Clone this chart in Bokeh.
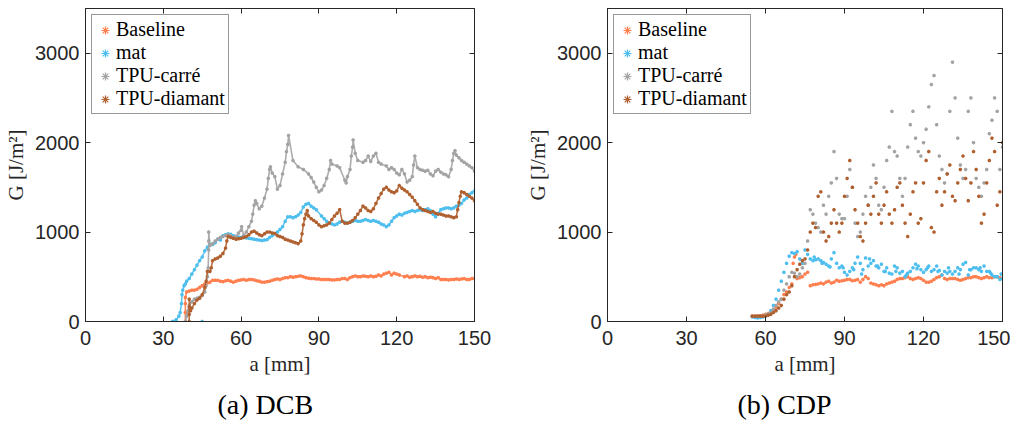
from bokeh.plotting import figure
from bokeh.layouts import row
from bokeh.models import LinearAxis, Range1d, Legend, LegendItem, Title, FixedTicker, CustomJSTickFormatter
from bokeh.embed import file_html
from bokeh.resources import INLINE

X_TICKS = [0, 30, 60, 90, 120, 150]
Y_TICKS = [0, 1000, 2000, 3000]
LABELS = ["Baseline", "mat", "TPU-carré", "TPU-diamant"]
COLORS = ["#FF7F4F", "#4DBEEE", "#A3A3A3", "#B0602F"]
CAPTIONS = ["(a) DCB", "(b) CDP"]

# ---------------- (a) DCB ----------------
dcb_base_a = [38.5, 38.5, 38.5, 38.5, 39, 40, 41, 42, 43, 44, 45, 46, 47, 48, 49, 50, 51, 52, 53, 54,
              55, 56, 57, 58, 59, 60, 61, 62, 63, 64, 65, 66, 67, 68, 69, 70, 71, 72, 73, 74,
              75, 76, 77, 78, 79, 80, 81, 82, 83, 84, 85, 86, 87, 88, 89, 90, 91, 92, 93, 94,
              95, 96, 97, 98, 99, 100, 101, 102, 103, 104, 105, 106, 107, 108, 109, 110, 111, 112, 113, 114,
              115, 116, 117, 118, 119, 120, 121, 123, 124, 125, 126, 127, 128, 129, 130, 131, 132, 133, 134, 135,
              136, 137, 138, 139, 140, 141, 142, 143, 144, 145, 146, 147, 148, 149, 150]
dcb_base_g = [0, 100, 200, 270, 330, 340, 350, 350, 360, 380, 400, 420, 430, 440, 460, 460, 460, 450, 445, 455,
              460, 450, 440, 450, 460, 465, 470, 460, 470, 470, 465, 455, 450, 440, 440, 445, 450, 460, 470, 475,
              470, 480, 490, 490, 500, 495, 500, 505, 510, 500, 490, 485, 480, 480, 475, 475, 470, 470, 470, 470,
              465, 465, 470, 470, 480, 480, 470, 490, 500, 510, 500, 500, 510, 505, 500, 510, 500, 505, 520, 510,
              530, 540, 550, 520, 540, 530, 520, 500, 510, 495, 500, 510, 500, 505, 495, 500, 490, 495, 490, 480,
              490, 470, 470, 470, 465, 470, 470, 475, 470, 475, 480, 470, 470, 480, 480]

dcb_mat_a = [33.5, 34, 35, 36, 36.5, 37, 37.2, 37.5, 38, 38.5, 39, 40, 41, 42, 43, 44, 45, 46, 47, 48,
             49, 50, 51, 52, 53, 54, 55, 56, 57, 58, 59, 60, 61, 62, 63, 64, 65, 66, 67, 68,
             69, 70, 71, 72, 73, 74, 75, 76, 77, 78, 79, 80, 81, 82, 83, 84, 85, 86, 87, 88,
             89, 91, 92, 93, 94, 95, 96, 97, 98, 99, 100, 101, 102, 103, 104, 105, 106, 107, 108, 109,
             110, 111, 112, 113, 114, 115, 116, 117, 118, 119, 120, 121, 122, 123, 124, 125, 126, 127, 128, 129,
             130, 131, 132, 133, 134, 135, 136, 137, 138, 139, 140, 141, 142, 143, 144, 145, 146, 147, 148, 149,
             150]
dcb_mat_g = [0, 0, 20, 60, 100, 200, 300, 350, 400, 420, 450, 480, 530, 580, 630, 680, 720, 790, 830, 860,
             860, 880, 920, 910, 960, 970, 980, 975, 960, 950, 945, 940, 940, 935, 930, 925, 920, 915, 910, 905,
             910, 915, 940, 960, 980, 1000, 1030, 1060, 1120, 1170, 1170, 1160, 1170, 1190, 1220, 1280, 1310, 1320, 1290, 1270,
             1250, 1180, 1150, 1120, 1100, 1090, 1080, 1090, 1110, 1120, 1110, 1100, 1110, 1120, 1130, 1120, 1120, 1130, 1140, 1130,
             1120, 1130, 1120, 1110, 1090, 1080, 1060, 1080, 1120, 1160, 1180, 1200, 1190, 1210, 1220, 1230, 1240, 1230, 1240, 1250,
             1240, 1250, 1260, 1240, 1200, 1170, 1210, 1250, 1260, 1270, 1270, 1260, 1270, 1290, 1300, 1320, 1360, 1380, 1420, 1440,
             1460]
dcb_mat_stray_a = [45]
dcb_mat_stray_g = [0]

dcb_car_a = [38.5, 39, 39.5, 40, 41, 42, 43, 44, 45, 46, 46.5, 47, 47.3, 47.5, 47.5, 47.5, 48, 49, 50, 51,
             52, 53, 54, 55, 56, 57, 58, 59, 60, 60.2, 61, 62, 63, 64, 64.5, 65, 65.5, 66, 67, 68,
             69, 70, 70.5, 71, 71.3, 72, 73, 74, 75, 76, 77, 77.5, 78, 78.3, 80, 82, 84, 86, 87, 88,
             89, 90, 91, 92, 93, 94, 94.5, 95, 97, 98, 100, 100.5, 101, 102, 102.5, 103, 103.2, 104, 105, 107,
             108, 109, 110, 111, 112, 113, 114, 116, 117, 118, 119, 120, 121, 122, 123, 124, 125, 126, 126.5, 127,
             128, 129, 130, 131, 132, 133, 134, 135, 136, 137, 138, 139, 140, 141, 141.5, 142, 142.5, 143, 144, 145,
             146, 147, 148, 149, 150]
dcb_car_g = [0, 60, 120, 180, 220, 250, 260, 270, 290, 330, 400, 500, 600, 800, 900, 1000, 850, 870, 900, 920,
             940, 950, 960, 970, 960, 940, 950, 990, 1020, 1060, 960, 1000, 1060, 1120, 1200, 1300, 1350, 1320, 1260, 1290,
             1380, 1480, 1600, 1700, 1730, 1660, 1620, 1480, 1520, 1650, 1780, 1900, 1980, 2080, 1800, 1730, 1700, 1650, 1610, 1560,
             1500, 1450, 1470, 1520, 1600, 1700, 1800, 1760, 1740, 1720, 1580, 1550, 1620, 1700, 1850, 1950, 2030, 1880, 1800, 1780,
             1800, 1850, 1790, 1850, 1880, 1780, 1760, 1740, 1700, 1720, 1700, 1660, 1640, 1700, 1650, 1560, 1580, 1620, 1750, 1850,
             1720, 1700, 1690, 1680, 1690, 1650, 1630, 1680, 1700, 1670, 1650, 1640, 1620, 1700, 1800, 1880, 1910, 1860, 1830, 1800,
             1780, 1760, 1740, 1720, 1680]

dcb_dia_a = [40, 40, 40, 40, 40.5, 41, 42, 43, 44, 45, 46, 46.5, 47, 48, 48.5, 49, 50, 51, 52, 53,
             54, 54.5, 55, 56, 57, 58, 59, 60, 61, 62, 63, 64, 65, 66, 67, 68, 69, 70, 71, 72,
             73, 74, 75, 76, 77, 78, 79, 80, 81, 82, 83, 83.5, 84, 84.5, 85, 85.5, 86, 87, 88, 89,
             90, 91, 92, 93, 94, 95, 96, 97, 98, 99, 100, 101, 102, 103, 104, 105, 106, 107, 108, 109,
             110, 111, 112, 113, 114, 115, 116, 117, 118, 119, 120, 121, 122, 123, 124, 125, 126, 127, 128, 129,
             130, 131, 132, 133, 134, 135, 136, 137, 138, 139, 140, 141, 142, 143, 143.5, 144, 144.5, 145, 146, 147,
             148, 149, 150]
dcb_dia_g = [0, 80, 160, 250, 120, 150, 200, 240, 260, 300, 380, 450, 560, 560, 600, 680, 700, 710, 730, 760,
             820, 900, 950, 940, 930, 920, 925, 930, 940, 950, 970, 1000, 1010, 990, 970, 960, 980, 1000, 1000, 990,
             985, 960, 950, 940, 920, 910, 900, 890, 880, 870, 900, 980, 1080, 1150, 1200, 1240, 1180, 1150, 1130, 1110,
             1080, 1060, 1070, 1080, 1100, 1140, 1180, 1210, 1250, 1120, 1100, 1100, 1110, 1130, 1160, 1200, 1240, 1290, 1270, 1240,
             1230, 1260, 1320, 1380, 1430, 1480, 1500, 1470, 1450, 1440, 1460, 1520, 1490, 1470, 1450, 1420, 1390, 1350, 1310, 1270,
             1250, 1240, 1230, 1220, 1230, 1210, 1200, 1200, 1190, 1180, 1180, 1170, 1160, 1170, 1250, 1330, 1400, 1450, 1440, 1420,
             1400, 1380, 1350]

# ---------------- (b) CDP ----------------
cdp_base_a = [55, 56, 57, 58, 59, 60, 61, 62, 63, 64, 65, 66, 67, 68, 69, 70, 70.5, 71, 71.5, 72,
              73, 74, 75, 76, 77, 78, 79, 80, 81, 82, 83, 84, 85, 86, 87, 88, 89, 90, 91, 92,
              93, 94, 95, 96, 97, 98, 99, 100, 101, 102, 103, 104, 105, 106, 107, 108, 109, 110, 111, 112,
              113, 114, 115, 116, 117, 118, 119, 120, 121, 122, 123, 124, 125, 126, 127, 128, 129, 130, 131, 132,
              133, 134, 135, 136, 137, 138, 139, 140, 141, 142, 143, 144, 145, 146, 147, 148, 149, 150]
cdp_base_g = [60, 60, 60, 65, 70, 80, 90, 100, 130, 160, 200, 250, 300, 330, 380, 420, 650, 720, 750, 480,
              490, 500, 530, 550, 400, 410, 415, 420, 430, 420, 440, 450, 430, 440, 460, 450, 455, 460, 470, 470,
              455, 460, 470, 440, 470, 500, 480, 430, 420, 410, 400, 410, 400, 420, 430, 440, 450, 470, 480, 480,
              490, 500, 480, 470, 480, 490, 480, 460, 440, 440, 450, 470, 490, 500, 520, 480, 470, 480, 480, 480,
              470, 460, 470, 480, 490, 490, 500, 500, 490, 480, 490, 500, 490, 490, 500, 500, 490, 480]

cdp_mat_a = [55, 56, 57, 58, 59, 60, 61, 62, 63, 64, 65, 66, 67, 68, 69, 70, 71, 72, 73, 74,
             75, 76, 77, 78, 79, 80, 81, 82, 83, 84, 85, 86, 87, 88, 89, 90, 91, 92, 93, 94,
             95, 96, 97, 98, 99, 100, 101, 102, 103, 104, 105, 106, 107, 108, 109, 110, 111, 112, 113, 114,
             115, 116, 117, 118, 119, 120, 121, 122, 123, 124, 125, 126, 127, 128, 129, 130, 131, 132, 133, 134,
             135, 136, 137, 138, 139, 140, 141, 142, 143, 144, 145, 146, 147, 148, 149, 150,
             78.5, 81.5, 84.5, 89.5, 93.5, 96.5, 99.5, 102.5, 105.5, 109.5, 113.5, 117.5, 121.5, 125.5, 129.5, 133.5,
             137.5, 141.5, 145.5, 149.5]
cdp_mat_g = [50, 45, 40, 45, 50, 60, 80, 120, 180, 250, 350, 450, 550, 650, 730, 770, 760, 780, 700, 650,
             800, 750, 700, 680, 690, 700, 680, 660, 640, 620, 700, 770, 650, 600, 620, 550, 520, 560, 600, 650,
             720, 650, 580, 710, 620, 650, 680, 620, 600, 640, 560, 600, 540, 530, 620, 600, 540, 560, 500, 540,
             560, 600, 640, 620, 580, 550, 580, 620, 560, 580, 620, 570, 520, 560, 540, 560, 530, 560, 600, 580,
             640, 660, 520, 580, 600, 600, 580, 560, 620, 560, 560, 520, 500, 500, 470, 480,
             720, 650, 610, 600, 580, 530, 700, 620, 560, 560, 520, 590, 600, 560, 600, 530,
             580, 600, 540, 530]

cdp_car_a = [55, 57, 58, 60, 61, 62, 63, 64, 65, 66, 67, 68, 69, 70, 71, 72, 73, 74, 75, 76,
             77, 78, 79, 80, 81, 82, 83, 84, 85, 86, 87, 88, 89, 90, 91, 92, 93, 94, 95, 96,
             97, 98, 99, 100, 101, 102, 103, 104, 105, 106, 107, 108, 109, 110, 111, 112, 113, 114, 115, 116,
             117, 118, 119, 120, 121, 122, 123, 124, 125, 126, 127, 128, 129, 130, 131, 132, 133, 134, 135, 136,
             137, 138, 139, 140, 141, 142, 143, 144, 145, 146, 147, 148, 149, 150]
cdp_car_g = [60, 60, 60, 70, 80, 100, 140, 180, 220, 250, 350, 420, 500, 550, 540, 500, 530, 600, 650, 900,
             1250, 1200, 1100, 1050, 1000, 1300, 1200, 1400, 1550, 1900, 1600, 1200, 1150, 1150, 1400, 1700, 1500, 1100, 950, 1000,
             1200, 1400, 1300, 1500, 1750, 1600, 1300, 1250, 1500, 1800, 1950, 2350, 1900, 1850, 1600, 1400, 1600, 1950, 2200, 2350,
             2050, 1900, 1850, 2000, 2150, 2400, 2650, 2750, 2200, 1850, 1700, 1550, 1650, 2350, 2900, 2500, 2050, 1750, 1600, 1700,
             2350, 2500, 2000, 1600, 1500, 1400, 1550, 1700, 2100, 2250, 2500, 2350, 1700, 1950]

cdp_dia_a = [55, 56, 57, 58, 59, 60, 61, 62, 63, 64, 65, 66, 67, 68, 69, 70, 71, 72, 73, 74,
             75, 76, 77, 78, 79, 80, 81, 82, 83, 84, 85, 86, 87, 88, 89, 90, 91, 92, 93, 94,
             95, 96, 97, 98, 99, 100, 101, 102, 103, 104, 105, 106, 107, 108, 109, 110, 111, 112, 113, 114,
             115, 116, 117, 118, 119, 120, 121, 122, 123, 124, 125, 126, 127, 128, 129, 130, 131, 132, 133, 134,
             135, 136, 137, 138, 139, 140, 141, 142, 143, 144, 145, 146, 147, 148, 149, 150]
cdp_dia_g = [60, 60, 60, 60, 60, 60, 70, 80, 100, 120, 150, 180, 250, 300, 330, 400, 500, 580, 640, 680,
             700, 800, 1000, 1100, 1050, 1400, 1450, 1000, 900, 950, 1100, 1250, 1100, 1000, 1100, 1400, 1600, 1800, 1500, 1250,
             1100, 950, 900, 1100, 1300, 1200, 1400, 1550, 1200, 1100, 1300, 1450, 1200, 1100, 1250, 1500, 1550, 1300, 1100, 950,
             1200, 1450, 1550, 1100, 1150, 1550, 1800, 1900, 1050, 1000, 1450, 1600, 1300, 1450, 1650, 1750, 1400, 1350, 1550, 1700,
             1850, 1600, 1350, 1550, 1900, 1700, 1400, 1100, 1200, 1550, 1800, 2050, 1900, 1300, 1450, 2000]

DCB = [(dcb_base_a, dcb_base_g), (dcb_mat_a, dcb_mat_g), (dcb_car_a, dcb_car_g), (dcb_dia_a, dcb_dia_g)]
CDP = [(cdp_base_a, cdp_base_g), (cdp_mat_a, cdp_mat_g), (cdp_car_a, cdp_car_g), (cdp_dia_a, cdp_dia_g)]

AX = "#262626"
TICK_FONT = "Liberation Sans"
SERIF = "Liberation Serif"


def style_axis(ax, ticks, show_labels):
    ax.ticker = FixedTicker(ticks=ticks)
    ax.major_tick_in = 5
    ax.major_tick_out = 0
    ax.minor_tick_line_color = None
    ax.axis_line_color = AX
    ax.major_tick_line_color = AX
    ax.major_label_text_font = TICK_FONT
    ax.major_label_text_color = AX
    ax.major_label_text_font_size = "20px"
    if not show_labels:
        ax.formatter = CustomJSTickFormatter(code="return '';")
        ax.major_label_standoff = 0
    ax.axis_label_text_font = SERIF
    ax.axis_label_text_font_style = "normal"
    ax.axis_label_text_font_size = "21px"
    ax.axis_label_text_color = AX


def make_panel(series, caption, width, left_border, right_border, msize, connect, extra=None, cap_offset=0):
    p = figure(width=width, height=427, x_range=Range1d(0, 150), y_range=Range1d(0, 3500),
               output_backend="svg", toolbar_location=None,
               min_border_left=left_border, min_border_right=right_border,
               min_border_top=8, min_border_bottom=0,
               x_axis_label="a [mm]", y_axis_label="G [J/m²]")
    p.grid.visible = False
    p.outline_line_color = AX
    p.background_fill_color = "white"
    style_axis(p.xaxis[0], X_TICKS, True)
    style_axis(p.yaxis[0], Y_TICKS, True)
    p.xaxis[0].major_label_standoff = 9
    p.xaxis[0].axis_label_standoff = 4
    p.yaxis[0].major_label_standoff = 6
    p.yaxis[0].axis_label_standoff = 4
    top = LinearAxis()
    style_axis(top, X_TICKS, False)
    p.add_layout(top, "above")
    right = LinearAxis()
    style_axis(right, Y_TICKS, False)
    p.add_layout(right, "right")

    items = []
    for (xs, ys), lab, col in zip(series, LABELS, COLORS):
        if connect:
            p.line(xs, ys, line_color=col, line_width=1.6, line_alpha=0.9)
        r = p.scatter(xs, ys, marker="asterisk", size=msize, line_color=col, line_width=1.2)
        items.append(LegendItem(label=lab, renderers=[r]))
    if extra is not None:
        xs, ys, col = extra
        p.scatter(xs, ys, marker="asterisk", size=msize, line_color=col, line_width=1.2)
    leg = Legend(items=items, location="top_left")
    leg.margin = 6
    leg.padding = 3
    leg.spacing = 0
    leg.glyph_width = 20
    leg.glyph_height = 20
    leg.label_height = 20
    leg.label_standoff = 1
    leg.label_text_font = SERIF
    leg.label_text_font_size = "20px"
    leg.label_text_color = "black"
    leg.border_line_color = "#333333"
    leg.border_line_width = 1
    leg.background_fill_color = "white"
    leg.background_fill_alpha = 1
    p.add_layout(leg)

    t = Title(text=caption, align="left", text_font=SERIF, text_font_size="28px",
              text_font_style="normal", text_color="black", standoff=16, offset=cap_offset)
    p.add_layout(t, "below")
    return p


p1 = make_panel(DCB, CAPTIONS[0], 500, 85, 26, 3.5, True,
                extra=(dcb_mat_stray_a, dcb_mat_stray_g, COLORS[1]), cap_offset=132)
p2 = make_panel(CDP, CAPTIONS[1], 510, 107, 8, 3.5, False, cap_offset=130)
layout = row(p1, p2)

open("out.html", "w").write(file_html(layout, INLINE))
